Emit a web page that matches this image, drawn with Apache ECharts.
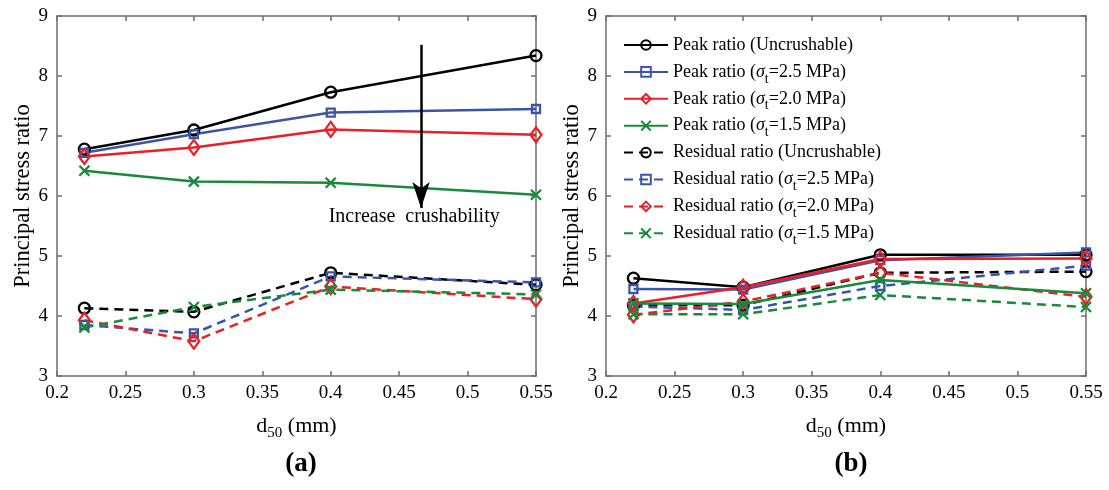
<!DOCTYPE html>
<html>
<head>
<meta charset="utf-8">
<script src="https://cdn.jsdelivr.net/npm/echarts@6/dist/echarts.min.js"></script>
<style>
  html, body { margin: 0; padding: 0; background: #fff; }
  #chart { width: 1109px; height: 490px; }
</style>
</head>
<body>
<div id="chart"></div>
<script>
  // ---- data ----
  var d50 = [0.22, 0.3, 0.4, 0.55]
  var xTicks = [0.2, 0.25, 0.3, 0.35, 0.4, 0.45, 0.5, 0.55]
  var yTicks = [3, 4, 5, 6, 7, 8, 9]

  var seriesNames = [
    'Peak ratio (Uncrushable)',
    'Peak ratio (σt=2.5 MPa)',
    'Peak ratio (σt=2.0 MPa)',
    'Peak ratio (σt=1.5 MPa)',
    'Residual ratio (Uncrushable)',
    'Residual ratio (σt=2.5 MPa)',
    'Residual ratio (σt=2.0 MPa)',
    'Residual ratio (σt=1.5 MPa)'
  ]

  // (a)
  var aPeakUncr = [6.78, 7.10, 7.73, 8.34]
  var aPeak25   = [6.72, 7.03, 7.39, 7.45]
  var aPeak20   = [6.66, 6.81, 7.11, 7.02]
  var aPeak15   = [6.42, 6.24, 6.22, 6.02]
  var aResUncr  = [4.13, 4.07, 4.72, 4.52]
  var aRes25    = [3.85, 3.71, 4.66, 4.56]
  var aRes20    = [3.93, 3.58, 4.49, 4.28]
  var aRes15    = [3.81, 4.15, 4.44, 4.36]

  // (b)
  var bPeakUncr = [4.63, 4.48, 5.02, 5.02]
  var bPeak25   = [4.45, 4.44, 4.93, 5.06]
  var bPeak20   = [4.21, 4.48, 4.95, 4.96]
  var bPeak15   = [4.21, 4.20, 4.60, 4.38]
  var bResUncr  = [4.18, 4.18, 4.72, 4.74]
  var bRes25    = [4.16, 4.10, 4.50, 4.84]
  var bRes20    = [4.02, 4.24, 4.72, 4.32]
  var bRes15    = [4.03, 4.03, 4.35, 4.15]

  // arrow annotation in (a)
  var arrowX = 0.466
  var arrowFrom = 8.52
  var arrowTo = 5.80
  var arrowText = 'Increase  crushability'
  var arrowTextAt = [0.461, 5.66]

  // ---- styles ----
  var FONT = 'Liberation Serif'
  var AXIS_COLOR = '#6e6e6e'
  var colors = ['#000000', '#3a55a6', '#ec1f27', '#178a3c']
  var crossPath = 'path://M0,0L10,10M10,0L0,10'
  var markers = [
    { symbol: 'circle', size: 11 },
    { symbol: 'rect', size: 8 },
    { symbol: 'diamond', size: [11, 15] },
    { symbol: crossPath, size: 10 }
  ]

  function pairs(arr) {
    return d50.map(function (x, i) { return [x, arr[i]] })
  }

  function makeLine(idx, arr, gridIdx) {
    var k = idx % 4
    var dashed = idx >= 4
    return {
      name: seriesNames[idx],
      type: 'line',
      xAxisIndex: gridIdx * 2,
      yAxisIndex: gridIdx * 2,
      data: pairs(arr),
      symbol: markers[k].symbol,
      symbolSize: markers[k].size,
      showAllSymbol: true,
      z: dashed ? 2 : 3,
      lineStyle: {
        color: colors[k],
        width: 2.5,
        type: dashed ? [9, 6] : 'solid'
      },
      itemStyle: {
        color: k === 3 ? colors[k] : 'rgba(255,255,255,0)',   // hollow markers
        borderColor: colors[k],
        borderWidth: 2.3
      },
      emphasis: { disabled: true },
      animation: false
    }
  }

  var gridA = [aPeakUncr, aPeak25, aPeak20, aPeak15, aResUncr, aRes25, aRes20, aRes15]
  var gridB = [bPeakUncr, bPeak25, bPeak20, bPeak15, bResUncr, bRes25, bRes20, bRes15]

  var series = []
  gridA.forEach(function (arr, i) { series.push(makeLine(i, arr, 0)) })
  gridB.forEach(function (arr, i) { series.push(makeLine(i, arr, 1)) })

  // arrow + text for (a)
  series.push({
    type: 'line',
    xAxisIndex: 0,
    yAxisIndex: 0,
    data: [],
    silent: true,
    animation: false,
    markLine: {
      silent: true,
      animation: false,
      symbol: ['none', 'arrow'],
      symbolSize: [13, 26],
      label: { show: false },
      lineStyle: { color: '#000', width: 2.5, type: 'solid' },
      data: [[{ coord: [arrowX, arrowFrom] }, { coord: [arrowX, arrowTo] }]]
    },
    markPoint: {
      silent: true,
      animation: false,
      symbol: 'circle',
      symbolSize: 0,
      label: {
        show: true,
        position: 'inside',
        formatter: arrowText,
        color: '#000',
        fontFamily: FONT,
        fontSize: 20
      },
      data: [{ coord: arrowTextAt }]
    }
  })

  var tickLabel = { color: '#000', fontFamily: FONT, fontSize: 19 }
  var axisLine = { show: true, onZero: false, lineStyle: { color: AXIS_COLOR, width: 1.5 } }
  var axisTick = { show: true, inside: true, length: 5, lineStyle: { color: AXIS_COLOR, width: 1.5 } }

  function xAx(gridIdx, pos) {
    var main = pos === 'bottom'
    return {
      type: 'value',
      gridIndex: gridIdx,
      position: pos,
      min: xTicks[0],
      max: xTicks[xTicks.length - 1],
      interval: 0.05,
      axisLine: axisLine,
      axisTick: axisTick,
      splitLine: { show: false },
      axisLabel: main ? Object.assign({
        margin: 8,
        formatter: function (v) { return String(+v.toFixed(2)) }
      }, tickLabel) : { show: false },
      name: main ? '{n|d}{sub|50}{n| (mm)}' : '',
      nameLocation: 'middle',
      nameGap: 36,
      nameTextStyle: {
        rich: {
          n: { fontFamily: FONT, fontSize: 22, color: '#000' },
          sub: { fontFamily: FONT, fontSize: 15, color: '#000', padding: [14, 0, 0, 0] }
        }
      }
    }
  }

  function yAx(gridIdx, pos) {
    var main = pos === 'left'
    return {
      type: 'value',
      gridIndex: gridIdx,
      position: pos,
      min: yTicks[0],
      max: yTicks[yTicks.length - 1],
      interval: 1,
      axisLine: axisLine,
      axisTick: axisTick,
      splitLine: { show: false },
      axisLabel: main ? Object.assign({ margin: 9 }, tickLabel) : { show: false },
      name: main ? 'Principal stress ratio' : '',
      nameLocation: 'middle',
      nameGap: 21,
      nameTextStyle: { fontFamily: FONT, fontSize: 22.5, color: '#000' }
    }
  }

  var richLegend = {
    s: { fontFamily: FONT, fontSize: 18, fontStyle: 'italic', color: '#000' },
    sub: { fontFamily: FONT, fontSize: 14, color: '#000', padding: [14, 0, 0, 0] }
  }

  var chart = echarts.init(document.getElementById('chart'), null, { renderer: 'canvas' })
  chart.setOption({
    backgroundColor: '#fff',
    animation: false,
    title: [
      { text: '(a)', left: 296, top: 446, textAlign: 'center',
        textStyle: { fontFamily: FONT, fontSize: 27, fontWeight: 'bold', color: '#000' } },
      { text: '(b)', left: 846, top: 446, textAlign: 'center',
        textStyle: { fontFamily: FONT, fontSize: 27, fontWeight: 'bold', color: '#000' } }
    ],
    grid: [
      { left: 57, top: 16, width: 479, height: 360 },
      { left: 606, top: 16, width: 480, height: 360 }
    ],
    legend: {
      show: true,
      orient: 'vertical',
      left: 618,
      top: 31,
      itemWidth: 44,
      itemHeight: 12,
      itemGap: 3.9,
      selectedMode: false,
      data: seriesNames,
      textStyle: { fontFamily: FONT, fontSize: 18, color: '#000', rich: richLegend },
      formatter: function (name) {
        // every row gets a subscript slot so all rows are the same height
        if (name.indexOf('σt') >= 0) return name.replace('σt', '{s|σ}{sub|t}')
        return name + '{sub| }'
      }
    },
    xAxis: [xAx(0, 'bottom'), xAx(0, 'top'), xAx(1, 'bottom'), xAx(1, 'top')],
    yAxis: [yAx(0, 'left'), yAx(0, 'right'), yAx(1, 'left'), yAx(1, 'right')],
    series: series
  })
</script>
</body>
</html>
